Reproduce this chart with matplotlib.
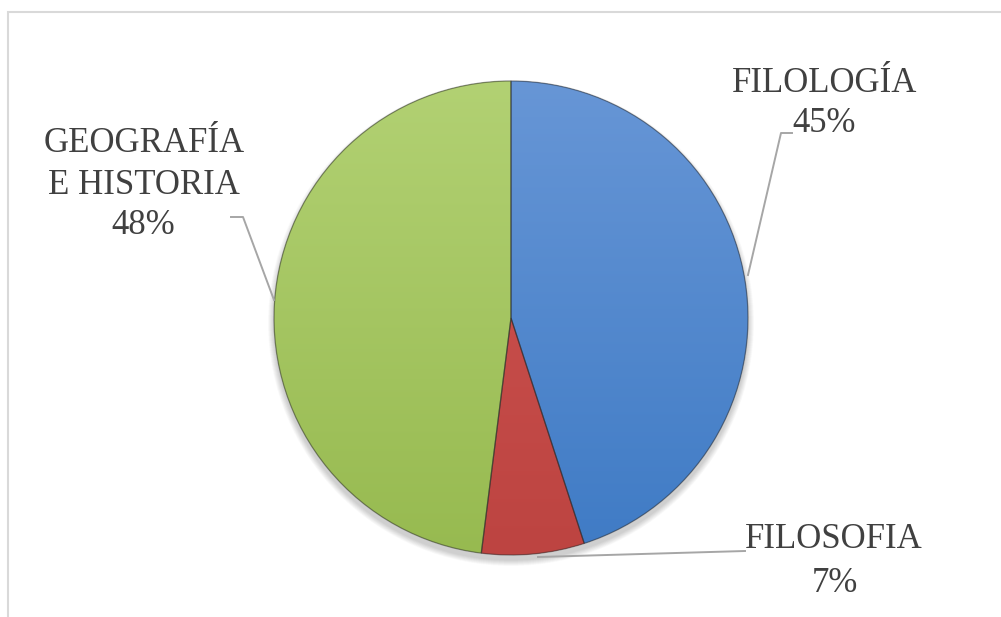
import numpy as np
import matplotlib
matplotlib.use("Agg")
import matplotlib.pyplot as plt
from matplotlib.patches import Rectangle, Circle, Wedge
from matplotlib.colors import LinearSegmentedColormap

# Data
categories = ["FILOLOGÍA", "FILOSOFIA", "GEOGRAFÍA\nE HISTORIA"]
values = [45, 7, 48]
pct_labels = ["45%", "7%", "48%"]

W, H = 1001, 617
fig = plt.figure(figsize=(W / 100, H / 100), dpi=100)
ax = fig.add_axes([0, 0, 1, 1])

# frame
fig.patches.append(Rectangle((8 / W, -0.1), 1.2, (H - 12) / H + 0.1, transform=fig.transFigure,
                             fill=False, edgecolor="#d9d9d9", linewidth=1.5))

cx, cy, r = 511, H - 318, 237

# soft shadow
for k in range(12):
    ax.add_patch(Circle((cx, cy - 5), r + 6 - k * 0.5, facecolor="#000000", alpha=0.016,
                        edgecolor="none", zorder=1))

grads = [("#6796d6", "#3f7bc5"), ("#cf5552", "#bd4441"), ("#b2d173", "#97ba50")]
mids = ["#5588cc", "#c84a47", "#a3c75e"]

wedges, _ = ax.pie(values, startangle=90, counterclock=False, center=(cx, cy), radius=r,
                   colors=mids, wedgeprops=dict(edgecolor="none", linewidth=0), frame=True)
ax.set_xlim(0, W)
ax.set_ylim(0, H)
ax.set_aspect("equal")
ax.axis("off")

g = np.linspace(1, 0, 256).reshape(-1, 1)
for w, (top, bot) in zip(wedges, grads):
    w.set_zorder(2)
    cmap = LinearSegmentedColormap.from_list("g", [bot, top])
    im = ax.imshow(g, cmap=cmap, extent=(cx - r, cx + r, cy - r, cy + r), origin="upper",
                   aspect="auto", zorder=3, interpolation="bilinear")
    im.set_clip_path(w)

# edges
for w in wedges:
    ax.add_patch(Wedge((cx, cy), r, w.theta1, w.theta2, facecolor="none", edgecolor="#2a2a2a",
                       linewidth=0.9, alpha=0.5, zorder=4))

txt = dict(fontfamily="Liberation Serif", fontsize=25, color="#404040", ha="center", va="center", zorder=6)

def py(y):
    return H - y

# labels
ax.text(825, py(84), categories[0], **txt)
ax.text(824, py(124), pct_labels[0], **txt)
ax.text(834, py(540), categories[1], **txt)
ax.text(835, py(583), pct_labels[1], **txt)
geo_lines = categories[2].split("\n")
ax.text(144, py(144), geo_lines[0], **txt)
ax.text(144, py(185), geo_lines[1], **txt)
ax.text(143, py(226), pct_labels[2], **txt)

lc = dict(color="#a6a6a6", linewidth=1.4, zorder=5)
ax.plot([792, 781, 748], [py(133), py(133), py(275)], **lc)
ax.plot([231, 243, 274], [py(217), py(217), py(300)], **lc)
ax.plot([745, 538], [py(551), py(557)], **lc)

fig.savefig("out.png", dpi=100)
